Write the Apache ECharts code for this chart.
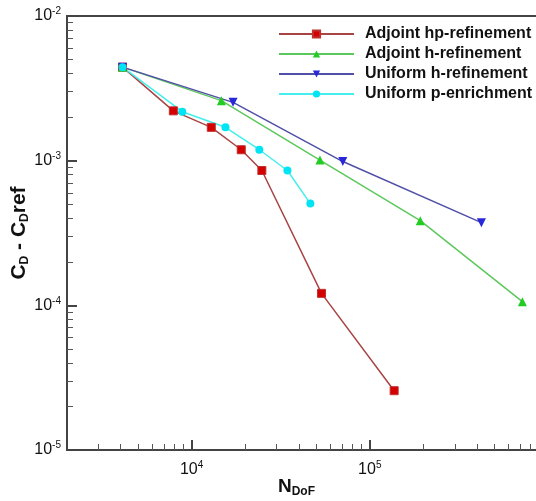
<!DOCTYPE html>
<html>
<head>
<meta charset="utf-8">
<script src="https://cdn.jsdelivr.net/npm/echarts@6/dist/echarts.min.js"></script>
<style>
  html, body { margin: 0; padding: 0; background: #fff; }
  #chart { width: 536px; height: 501px; }
</style>
</head>
<body>
<div id="chart"></div>
<script>
// 数据 (N_DoF, CD - CDref)
var hpX = [4100, 7900, 12900, 19000, 24800, 53600, 137000];
var hpY = [4.43e-3, 2.21e-3, 1.70e-3, 1.19e-3, 8.55e-4, 1.21e-4, 2.57e-5];

var hX = [4100, 14700, 52500, 192000, 718000];
var hY = [4.43e-3, 2.60e-3, 1.01e-3, 3.85e-4, 1.06e-4];

var uhX = [4100, 17100, 70600, 423000];
var uhY = [4.43e-3, 2.53e-3, 9.86e-4, 3.73e-4];

var upX = [4100, 8870, 15500, 24000, 34500, 46400];
var upY = [4.43e-3, 2.18e-3, 1.70e-3, 1.19e-3, 8.55e-4, 5.05e-4];

var xMajor = [1e4, 1e5];
var xMinor = [3000, 4000, 5000, 6000, 7000, 8000, 9000,
              20000, 30000, 40000, 50000, 60000, 70000, 80000, 90000,
              200000, 300000, 400000, 500000, 600000, 700000, 800000, 900000];
var yMajor = [1e-5, 1e-4, 1e-3, 1e-2];
var yMinor = [];
[1e-5, 1e-4, 1e-3].forEach(function (d) {
    for (var k = 2; k <= 9; k++) yMinor.push(k * d);
});

function pairs(xs, ys) {
    return xs.map(function (x, i) { return [x, ys[i]]; });
}

function powLabel(v) {
    var e = Math.round(Math.log10(v));
    if (Math.abs(Math.log10(v) - e) > 1e-6) return '';
    if (e >= 6) return '';
    return '{b|10}{s|' + e + '}';
}

var labelRich = {
    b: { fontSize: 16, color: '#111', fontFamily: 'Liberation Sans' },
    s: { fontSize: 10, color: '#111', fontFamily: 'Liberation Sans', padding: [0, 0, 9, 0] }
};

var chart = echarts.init(document.getElementById('chart'));

var option = {
    animation: false,
    backgroundColor: '#fff',
    grid: {
        left: 67, right: -12, top: 16, bottom: 51,
        outerBoundsMode: 'none',
        containLabel: false,
        show: true, borderColor: '#444', borderWidth: 2
    },
    legend: {
        orient: 'vertical',
        left: 278, top: 26, padding: 0,
        itemWidth: 75, itemHeight: 9, itemGap: 4,
        textStyle: { fontSize: 16, fontWeight: 'bold', color: '#111', fontFamily: 'Liberation Sans', padding: [0, 0, 0, 6] },
        data: ['Adjoint hp-refinement', 'Adjoint h-refinement', 'Uniform h-refinement', 'Uniform p-enrichment']
    },
    xAxis: [
        {
            type: 'log', min: 2000, max: 1e6,
            axisLine: { show: false },
            splitLine: { show: false },
            axisTick: { show: true, inside: true, length: 10, customValues: xMajor, lineStyle: { color: '#444', width: 2 } },
            axisLabel: { formatter: powLabel, rich: labelRich, margin: 10 },
            name: '{n|N}{d|DoF}',
            nameLocation: 'middle', nameGap: 26,
            nameMoveOverlap: false,
            nameTextStyle: {
                padding: [0, 22, 0, 0],
                rich: {
                    n: { fontSize: 19, fontWeight: 'bold', color: '#111', fontFamily: 'Liberation Sans' },
                    d: { fontSize: 12, fontWeight: 'bold', color: '#111', fontFamily: 'Liberation Sans', padding: [10, 0, 0, 0] }
                }
            }
        },
        {
            type: 'log', min: 2000, max: 1e6, position: 'bottom',
            axisLine: { show: false },
            splitLine: { show: false },
            axisLabel: { show: false },
            axisTick: { show: true, inside: true, length: 6, customValues: xMinor, lineStyle: { color: '#555', width: 1 } }
        }
    ],
    yAxis: [
        {
            type: 'log', min: 1e-5, max: 1e-2, position: 'left',
            axisLine: { show: false },
            splitLine: { show: false },
            axisTick: { show: true, inside: true, length: 10, customValues: yMajor, lineStyle: { color: '#444', width: 2 } },
            axisLabel: { formatter: powLabel, rich: labelRich, margin: 6 },
            name: '{c|C}{d|D}{c| - C}{d|D}{c|ref}',
            nameLocation: 'middle', nameGap: 36,
            nameMoveOverlap: false,
            nameTextStyle: {
                rich: {
                    c: { fontSize: 21, fontWeight: 'bold', color: '#111', fontFamily: 'Liberation Sans' },
                    d: { fontSize: 12, fontWeight: 'bold', color: '#111', fontFamily: 'Liberation Sans', padding: [11, 0, 0, 0] }
                }
            }
        },
        {
            type: 'log', min: 1e-5, max: 1e-2, position: 'left',
            axisLine: { show: false },
            splitLine: { show: false },
            axisLabel: { show: false },
            axisTick: { show: true, inside: true, length: 6, customValues: yMinor, lineStyle: { color: '#555', width: 1 } }
        }
    ],
    series: [
        {
            name: 'Adjoint hp-refinement', type: 'line',
            data: pairs(hpX, hpY),
            symbol: 'rect', symbolSize: 8,
            lineStyle: { color: '#a84444', width: 1.5 },
            itemStyle: { color: '#d40000', borderColor: '#c03030', borderWidth: 1 }
        },
        {
            name: 'Adjoint h-refinement', type: 'line',
            data: pairs(hX, hY),
            symbol: 'triangle', symbolSize: 9,
            lineStyle: { color: '#5cc85c', width: 1.5 },
            itemStyle: { color: '#22cc22' }
        },
        {
            name: 'Uniform h-refinement', type: 'line',
            data: pairs(uhX, uhY),
            symbol: 'triangle', symbolRotate: 180, symbolSize: 9,
            lineStyle: { color: '#5050a8', width: 1.5 },
            itemStyle: { color: '#2828d8' }
        },
        {
            name: 'Uniform p-enrichment', type: 'line',
            data: pairs(upX, upY),
            symbol: 'circle', symbolSize: 8,
            lineStyle: { color: '#44eeee', width: 1.5 },
            itemStyle: { color: '#00e4f4' }
        }
    ]
};

chart.setOption(option);
</script>
</body>
</html>
